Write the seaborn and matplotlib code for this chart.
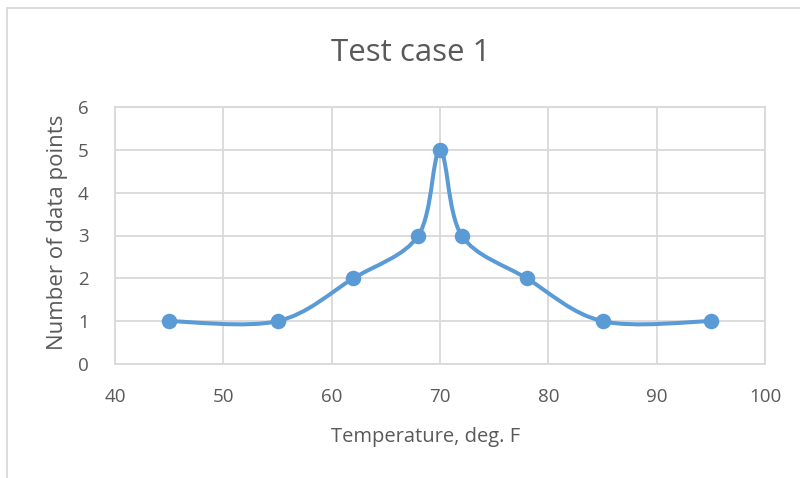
import numpy as np
import pandas as pd
import matplotlib
matplotlib.use("Agg")
import matplotlib.pyplot as plt
from matplotlib.path import Path
from matplotlib.patches import PathPatch, Rectangle
import seaborn as sns

temperature = [45, 55, 62, 68, 70, 72, 78, 85, 95]
count = [1, 1, 2, 3, 5, 3, 2, 1, 1]
x_ticks = [40, 50, 60, 70, 80, 90, 100]
y_ticks = [0, 1, 2, 3, 4, 5, 6]
title = "Test case 1"
x_label = "Temperature, deg. F"
y_label = "Number of data points"

sns.set_theme(style="white")
plt.rcParams['font.family'] = ['Open Sans', 'DejaVu Sans']

W, H = 800, 478
fig = plt.figure(figsize=(W / 100, H / 100), dpi=100)
left, right, top, bottom = 115, 765, 107, 364
ax = fig.add_axes([left / W, 1 - bottom / H, (right - left) / W, (bottom - top) / H])

# chart frame
fig.patches.append(Rectangle((7 / W, -0.1), 1.2, 1 - 8 / H + 0.1, transform=fig.transFigure,
                             fill=False, edgecolor="#d9d9d9", linewidth=1.3, zorder=0))

line_color = "#5b9bd5"
grid_color = "#d9d9d9"
text_color = "#595959"

df = pd.DataFrame({"t": temperature, "n": count})

# Excel-style smoothed line (cubic Bezier through the points)
pts = np.column_stack([df["t"].to_numpy(float), df["n"].to_numpy(float)])
verts = [tuple(pts[0])]
codes = [Path.MOVETO]
n = len(pts)
for i in range(n - 1):
    p0 = pts[i - 1] if i > 0 else pts[i]
    p1 = pts[i]
    p2 = pts[i + 1]
    p3 = pts[i + 2] if i + 2 < n else pts[i + 1]
    c1 = p1 + (p2 - p0) / 6
    c2 = p2 - (p3 - p1) / 6
    verts += [tuple(c1), tuple(c2), tuple(p2)]
    codes += [Path.CURVE4] * 3
ax.add_patch(PathPatch(Path(verts, codes), facecolor="none", edgecolor=line_color,
                       linewidth=2.9, capstyle="round", joinstyle="round", zorder=3))

sns.scatterplot(data=df, x="t", y="n", ax=ax, color=line_color, s=125,
                edgecolor=line_color, linewidth=0, zorder=4, legend=False)

ax.set_xlim(40, 100)
ax.set_ylim(0, 6)
ax.set_xticks(x_ticks)
ax.set_yticks(y_ticks)
ax.grid(True, color=grid_color, linewidth=1.3)
ax.set_axisbelow(True)
for s in ax.spines.values():
    s.set_color(grid_color)
    s.set_linewidth(1.3)
ax.tick_params(axis="both", length=0, labelsize=13.5, labelcolor=text_color)
ax.tick_params(axis="x", pad=17)
ax.tick_params(axis="y", pad=19)
ax.set_xlabel(x_label, fontsize=14.5, color=text_color)
ax.set_ylabel(y_label, fontsize=16, color=text_color)
ax.xaxis.set_label_coords((426 - left) / (right - left), (bottom - 437) / (bottom - top), transform=ax.transAxes)
ax.yaxis.set_label_coords((58 - left) / (right - left), (bottom - 232) / (bottom - top), transform=ax.transAxes)
for lbl in (ax.xaxis.label, ax.yaxis.label):
    lbl.set_verticalalignment("center")
fig.text(411 / W, 1 - 53 / H, title, ha="center", va="center", fontsize=22.5, color=text_color)

fig.savefig("out.png", dpi=100)
